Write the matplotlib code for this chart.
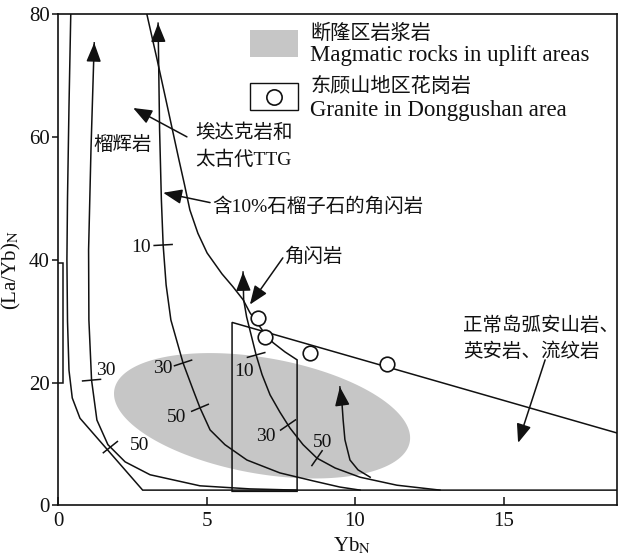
import numpy as np
import matplotlib
matplotlib.use("Agg")
import matplotlib.pyplot as plt
from matplotlib.patches import Polygon, Rectangle

plt.rcParams['font.family'] = ['Liberation Serif', 'Noto Sans CJK SC']
plt.rcParams['mathtext.fontset'] = 'stix'

# ---------------- axis ranges ----------------
x_max = 18.82
y_max = 80
x_ticks = [0, 5, 10, 15]
y_ticks = [0, 20, 40, 60, 80]

# ---------------- field boundaries ----------------
# outer boundary of the adakite / Archean TTG field (left side and base)
outer_x = [0.43, 0.37, 0.32, 0.30, 0.32, 0.37, 0.48, 0.74, 2.85, 18.82]
outer_y = [80, 65, 50, 40, 30, 22, 17.5, 14.2, 2.5, 2.5]

# inner boundary of the adakite / TTG field
adakite_x = [2.99, 3.34, 3.63, 3.85, 4.07, 4.26, 4.44, 4.71, 5.02, 5.52, 5.89,
             6.23, 6.46, 6.87, 7.24, 7.64, 8.05, 8.05]
adakite_y = [80, 72.5, 66.1, 61.2, 56.3, 52.2, 48.1, 44.3, 41.1, 37.7, 35.6,
             33.5, 31.4, 28.6, 26.5, 25.0, 23.7, 2.5]

# normal arc andesite-dacite-rhyolite field
arc_x = [18.82, 5.86, 5.86, 8.05]
arc_y = [11.8, 29.8, 2.3, 2.3]

# short bracket on the y axis
bracket_x = [0.0, 0.17, 0.17, 0.0]
bracket_y = [39.5, 39.5, 20.0, 20.0]

# ---------------- partial melting trends (top point = arrow tip) ----------------
eclogite_x = [1.22, 1.11, 1.03, 1.04, 1.13, 1.31, 1.68, 2.26, 3.10, 4.78, 6.46, 8.05]
eclogite_y = [75.3, 57.9, 41.6, 30.2, 20.4, 13.9, 9.9, 7.1, 5.0, 3.2, 2.7, 2.5]

garnet10_x = [3.37, 3.42, 3.48, 3.54, 3.64, 3.80, 4.21, 4.55, 4.78, 5.12, 5.62,
              6.36, 7.47, 8.59, 9.49, 10.17]
garnet10_y = [78.5, 61.2, 49.8, 42.4, 35.9, 30.2, 23.2, 18.8, 15.9, 12.3, 9.9,
              7.4, 5.3, 4.0, 3.0, 2.5]

amph_x = [6.23, 6.25, 6.35, 6.50, 6.67, 6.87, 7.14, 7.47, 7.81, 8.25, 8.72,
          9.33, 10.17, 11.41, 12.86]
amph_y = [38.0, 33.5, 30.7, 27.8, 24.5, 21.3, 18.0, 15.2, 12.6, 9.9, 7.7,
          6.1, 4.6, 3.3, 2.5]

# trend inside the uplift-area field (last point = arrow tip)
uplift_trend_x = [10.51, 10.10, 9.83, 9.66, 9.60, 9.56, 9.49]
uplift_trend_y = [4.6, 5.8, 7.4, 10.7, 13.9, 16.7, 19.3]

# degree of melting (%) marked on each trend: (label, La/Yb on the curve)
eclogite_marks = [(30, 20.4), (50, 9.5)]
garnet10_marks = [(10, 42.4), (30, 23.2), (50, 15.9)]
amph_marks = [(10, 24.5), (30, 13.1), (50, 7.7)]

# ---------------- samples ----------------
granite_yb = [6.73, 6.97, 8.48, 11.08]
granite_layb = [30.5, 27.4, 24.8, 23.0]

# uplift-area magmatic rocks field (ellipse: centre, half axes in Yb units, tilt)
uplift_center = (6.87, 14.6)
uplift_half_long = 5.05
uplift_half_short = 1.95
uplift_tilt_deg = -10.0

GRAY = '#c6c6c6'
INK = '#111111'
LW = 1.1

fig = plt.figure(figsize=(6.25, 5.57), dpi=100)
ax = fig.add_axes([0.0928, 0.0925, 0.8944, 0.8824])
ax.set_xlim(0, x_max)
ax.set_ylim(0, y_max)

# ratio between one La/Yb unit and one Yb unit on screen
bbox = ax.get_window_extent()
k = (bbox.height / y_max) / (bbox.width / x_max)

# gray ellipse field
t = np.linspace(0, 2 * np.pi, 240)
th = np.deg2rad(uplift_tilt_deg)
u = uplift_half_long * np.cos(t) * np.cos(th) - uplift_half_short * np.sin(t) * np.sin(th)
v = uplift_half_long * np.cos(t) * np.sin(th) + uplift_half_short * np.sin(t) * np.cos(th)
ax.add_patch(Polygon(np.column_stack([uplift_center[0] + u, uplift_center[1] + v / k]),
                     closed=True, fc=GRAY, ec='none', zorder=1))

line_kw = dict(color=INK, lw=LW, zorder=3, solid_joinstyle='miter')
ax.plot(outer_x, outer_y, **line_kw)
ax.plot(adakite_x, adakite_y, **line_kw)
ax.plot(arc_x, arc_y, **line_kw)
ax.plot(bracket_x, bracket_y, **line_kw)
ax.plot(eclogite_x, eclogite_y, **line_kw)
ax.plot(garnet10_x, garnet10_y, **line_kw)
ax.plot(amph_x, amph_y, **line_kw)
ax.plot(uplift_trend_x, uplift_trend_y, **line_kw)

head = dict(arrowstyle='-|>,head_length=1.15,head_width=0.45', color=INK, lw=LW,
            shrinkA=0, shrinkB=0, mutation_scale=10)


def arrow_tip(xs, ys, tip_index, toward_index):
    tip = (xs[tip_index], ys[tip_index])
    dx = xs[tip_index] - xs[toward_index]
    dy = ys[tip_index] - ys[toward_index]
    n = np.hypot(dx, dy * k)
    back = (tip[0] - dx / n * 0.6, tip[1] - dy / n * 0.6)
    ax.annotate('', xy=tip, xytext=back, arrowprops=head, zorder=4)


arrow_tip(eclogite_x, eclogite_y, 0, 1)
arrow_tip(garnet10_x, garnet10_y, 0, 1)
arrow_tip(amph_x, amph_y, 0, 1)
arrow_tip(uplift_trend_x, uplift_trend_y, -1, -2)

# melting-degree ticks, drawn perpendicular to each trend
to_data = ax.transData.inverted()


def melt_marks(xs, ys, marks, offsets):
    xs = np.asarray(xs)
    ys = np.asarray(ys)
    for (label, yv), off in zip(marks, offsets):
        xv = np.interp(yv, ys[::-1], xs[::-1])
        p = ax.transData.transform((xv, yv))
        pa = ax.transData.transform((np.interp(yv + 1.5, ys[::-1], xs[::-1]), yv + 1.5))
        pb = ax.transData.transform((np.interp(yv - 1.5, ys[::-1], xs[::-1]), yv - 1.5))
        tang = pa - pb
        tang = tang / np.hypot(*tang)
        perp = np.array([tang[1], -tang[0]])
        if perp[0] < 0:
            perp = -perp
        ends = to_data.transform([p - perp * 9, p + perp * 9])
        ax.plot(ends[:, 0], ends[:, 1], **line_kw)
        ax.annotate(str(label), xy=(xv, yv), xytext=off, textcoords='offset points',
                    ha='center', va='center', fontsize=14, color=INK, zorder=5)


melt_marks(eclogite_x, eclogite_y, eclogite_marks, [(10, 7), (21, 1.5)])
melt_marks(garnet10_x, garnet10_y, garnet10_marks, [(-16, -2), (-14.5, -4.3), (-16.5, -7.2)])
melt_marks(amph_x, amph_y, amph_marks, [(-8.6, -12), (-15.8, -8.6), (4.3, 11.5)])

# samples
ax.plot(granite_yb, granite_layb, ls='none', marker='o', ms=10.5, mfc='white',
        mec=INK, mew=1.2, zorder=6)

# field / trend names with pointers
txt_kw = dict(fontsize=14, color=INK, zorder=5)
ax.text(1.18, 58.7, '榴辉岩', ha='left', va='center', **txt_kw)
ax.text(4.61, 60.6, '埃达克岩和', ha='left', va='center', **txt_kw)
ax.text(4.61, 56.3, '太古代TTG', ha='left', va='center', **txt_kw)
ax.text(5.19, 48.6, '含10%石榴子石的角闪岩', ha='left', va='center', **txt_kw)
ax.text(7.64, 40.5, '角闪岩', ha='left', va='center', **txt_kw)
ax.text(13.64, 29.2, '正常岛弧安山岩、', ha='left', va='center', **txt_kw)
ax.text(13.64, 25.0, '英安岩、流纹岩', ha='left', va='center', **txt_kw)

ax.annotate('', xy=(2.53, 64.7), xytext=(4.34, 60.0), arrowprops=head, zorder=4)
ax.annotate('', xy=(3.54, 50.9), xytext=(5.12, 49.3), arrowprops=head, zorder=4)
ax.annotate('', xy=(6.46, 32.7), xytext=(7.57, 40.3), arrowprops=head, zorder=4)
ax.annotate('', xy=(15.49, 10.2), xytext=(16.4, 23.7), arrowprops=head, zorder=4)

# legend
ax.add_patch(Rectangle((0.343, 0.912), 0.086, 0.055, transform=ax.transAxes,
                       fc=GRAY, ec='none', zorder=5))
ax.add_patch(Rectangle((0.343, 0.804), 0.086, 0.056, transform=ax.transAxes,
                       fill=False, ec=INK, lw=1.0, zorder=5))
ax.plot([0.386], [0.832], transform=ax.transAxes, marker='o', ms=11, mfc='white',
        mec=INK, mew=1.2, zorder=6)
leg_kw = dict(transform=ax.transAxes, ha='left', va='center', color=INK, zorder=6)
ax.text(0.451, 0.959, '断隆区岩浆岩', fontsize=14.5, **leg_kw)
ax.text(0.451, 0.915, 'Magmatic rocks in uplift areas', fontsize=16.5, **leg_kw)
ax.text(0.451, 0.851, '东顾山地区花岗岩', fontsize=14.5, **leg_kw)
ax.text(0.451, 0.803, 'Granite in Donggushan area', fontsize=16.5, **leg_kw)

# axes styling
for s in ax.spines.values():
    s.set_linewidth(1.2)
    s.set_color(INK)
ax.set_xticks(x_ticks)
ax.set_yticks(y_ticks)
ax.tick_params(axis='x', direction='in', length=6, width=1.1, labelsize=15, pad=5,
               colors=INK)
ax.tick_params(axis='y', direction='out', length=4, width=1.1, labelsize=15, pad=2,
               colors=INK)
ax.set_xlabel('Yb$_\\mathrm{N}$', fontsize=15, color=INK)
ax.xaxis.set_label_coords(0.526, -0.062)
ax.set_ylabel('(La/Yb)$_\\mathrm{N}$', fontsize=15, color=INK)
ax.yaxis.set_label_coords(-0.062, 0.479)

fig.savefig('out.png', dpi=100, facecolor='white')
